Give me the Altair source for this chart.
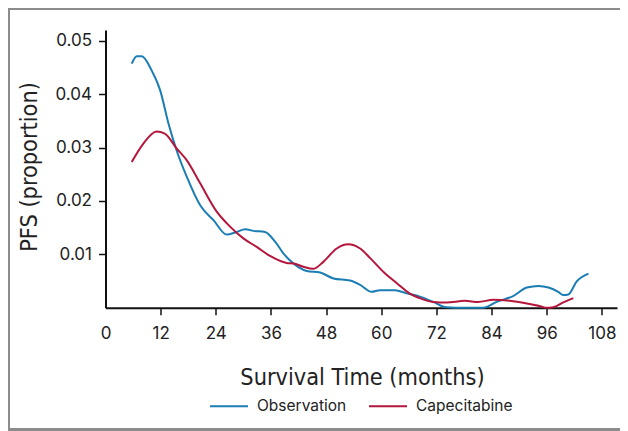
import altair as alt
import pandas as pd

# Observation series (months, PFS density)
obs_m = [5.7, 6.8, 7.9, 10.0, 11.9, 13.7, 15.5, 17.7, 20.6, 23.5, 26.4, 28.5, 30.4, 32.2,
         34.7, 36.9, 38.7, 40.1, 43.8, 46.7, 49.6, 53.2, 55.4, 57.9, 59.7, 63.0, 65.5,
         68.4, 71.3, 74.2, 77.9, 82.2, 85.1, 88.7, 91.7, 94.2, 96.4, 98.5, 99.6, 100.7,
         102.5, 105.1]
obs_v = [0.0457, 0.0471, 0.0471, 0.0445, 0.0407, 0.0345, 0.0294, 0.0245, 0.0192, 0.0164,
         0.0137, 0.0142, 0.0147, 0.0144, 0.0142, 0.0124, 0.0102, 0.0089, 0.0069, 0.0066,
         0.0055, 0.0051, 0.0043, 0.0030, 0.0033, 0.0033, 0.0027, 0.0021, 0.0011, 0.0001,
         0.0, 0.0, 0.0011, 0.0022, 0.0038, 0.0041, 0.0038, 0.0030, 0.0024, 0.0025,
         0.0049, 0.0064]

# Capecitabine series
cap_m = [5.7, 8.2, 11.1, 12.9, 15.5, 17.7, 20.6, 24.2, 27.1, 30.0, 32.9, 35.8, 39.4, 40.9,
         43.0, 45.2, 47.4, 50.3, 52.8, 55.4, 57.6, 60.5, 63.4, 66.3, 68.4, 71.3, 74.2,
         78.2, 81.1, 84.4, 88.0, 91.7, 94.6, 96.0, 97.4, 99.6, 101.8]
cap_v = [0.0273, 0.0307, 0.0330, 0.0326, 0.0298, 0.0276, 0.0233, 0.0180, 0.0152, 0.0130,
         0.0114, 0.0097, 0.0084, 0.0083, 0.0077, 0.0073, 0.0086, 0.0111, 0.0119, 0.0111,
         0.0093, 0.0067, 0.0046, 0.0026, 0.0018, 0.0011, 0.0010, 0.0013, 0.0011, 0.0015,
         0.0013, 0.0008, 0.0003, 0.0, 0.0001, 0.0010, 0.0018]

series = ["Observation", "Capecitabine"]
colors = ["#1a7db4", "#b5163c"]
x_ticks = [0, 12, 24, 36, 48, 60, 72, 84, 96, 108]
y_ticks = [0.01, 0.02, 0.03, 0.04, 0.05]

rows = []
for m, v in zip(obs_m, obs_v):
    rows.append({"month": m, "pfs": v, "arm": series[0], "k": 0})
for m, v in zip(cap_m, cap_v):
    rows.append({"month": m, "pfs": v, "arm": series[1], "k": 1})
df = pd.DataFrame(rows)

TICK_FONT = "Inter, Roboto, Liberation Sans, sans-serif"
TITLE_FONT = "DejaVu Sans Condensed, Roboto, sans-serif"

lines = alt.Chart(df).mark_line(strokeWidth=2, interpolate="monotone").encode(
    x=alt.X("month:Q",
            scale=alt.Scale(domain=[0, 111.3], nice=False, zero=False),
            axis=alt.Axis(values=x_ticks, title="Survival Time (months)",
                          labelPadding=11, labelFlush=False,
                          tickOpacity={"condition": {"test": "datum.value === 0", "value": 0}, "value": 1},
                          titleX=256.5, titleY=77, titleAlign="center",
                          titleBaseline="alphabetic")),
    y=alt.Y("pfs:Q",
            scale=alt.Scale(domain=[0, 0.052], nice=False),
            axis=alt.Axis(values=y_ticks, format=".2f", title="PFS (proportion)",
                          labelPadding=7, labelFlush=False,
                          titleAngle=270, titleX=-69.5, titleY=136.5,
                          titleAlign="center", titleBaseline="alphabetic")),
    color=alt.Color("arm:N",
                    scale=alt.Scale(domain=series, range=colors),
                    legend=alt.Legend(title=None, orient="none", direction="horizontal",
                                      legendX=103.5, legendY=356,
                                      symbolType="stroke", symbolSize=1444,
                                      symbolStrokeWidth=2, labelOffset=8,
                                      columnPadding=18, padding=0,
                                      labelFont=TICK_FONT, labelFontSize=15.5,
                                      labelColor="#222222")),
    detail="arm:N",
    order="k:Q",
)

frame_color = "#8c8c8c"
frame_left = alt.Chart(df).mark_rule(color=frame_color, strokeWidth=1.5).encode(
    x=alt.value(-96.75), y=alt.value(-21.25), y2=alt.value(399.5))
frame_top = alt.Chart(df).mark_rule(color=frame_color, strokeWidth=1.5).encode(
    x=alt.value(-96.75), x2=alt.value(514.5), y=alt.value(-21.25))
frame_bottom = alt.Chart(df).mark_rule(color=frame_color, strokeWidth=1.5).encode(
    x=alt.value(-96.75), x2=alt.value(514.5), y=alt.value(399.5))

chart = alt.layer(lines, frame_left, frame_top, frame_bottom).properties(
    width=511.5, height=277.8,
    autosize="none",
    padding={"left": 97.5, "top": 22, "right": 3, "bottom": 123.2},
    background="white",
).configure_view(strokeWidth=0).configure_axis(
    grid=False,
    domainColor="#111111", domainWidth=2,
    tickColor="#111111", tickWidth=1.5, tickSize=7,
    labelFont=TICK_FONT, labelFontSize=17, labelColor="#222222",
    titleFont=TITLE_FONT, titleFontSize=23.3, titleFontWeight="normal",
    titleColor="#222222",
)

chart.save("out.html", embed_options={"renderer": "svg", "actions": False})
